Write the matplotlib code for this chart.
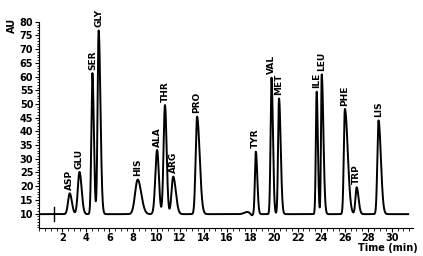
import numpy as np
import matplotlib.pyplot as plt
from matplotlib.ticker import MultipleLocator

# Peaks
names = ['ASP', 'GLU', 'SER', 'GLY', 'HIS', 'ALA', 'THR', 'ARG', 'PRO',
         'TYR', 'VAL', 'MET', 'ILE', 'LEU', 'PHE', 'TRP', 'LIS']
times = [2.62, 3.45, 4.55, 5.08, 8.40, 10.05, 10.72, 11.42, 13.45,
         18.45, 19.78, 20.42, 23.62, 24.05, 26.02, 27.02, 28.88]
heights = [17.4, 25.2, 61.3, 76.8, 22.4, 33.2, 49.6, 23.5, 45.4,
           32.6, 59.6, 52.0, 54.5, 60.8, 48.2, 19.6, 44.0]
sig_left = [0.14, 0.14, 0.09, 0.09, 0.22, 0.15, 0.12, 0.14, 0.12,
            0.08, 0.08, 0.08, 0.07, 0.06, 0.09, 0.10, 0.10]
sig_right = [0.18, 0.18, 0.12, 0.15, 0.30, 0.15, 0.14, 0.22, 0.22,
             0.12, 0.12, 0.14, 0.10, 0.14, 0.24, 0.16, 0.20]
baseline = 9.8

t = np.linspace(0, 31.4, 4000)
y = np.full_like(t, baseline)
for t0, h, sl, sr in zip(times, heights, sig_left, sig_right):
    s = np.where(t < t0, sl, sr)
    y = y + (h - baseline) * np.exp(-0.5 * ((t - t0) / s) ** 2)
# small bump before TYR
y = y + 0.8 * np.exp(-0.5 * ((t - 17.7) / 0.25) ** 2) - 0.6 * np.exp(-0.5 * ((t - 18.1) / 0.1) ** 2)

fig = plt.figure(figsize=(4.23, 2.56), dpi=100)
ax = fig.add_axes([0.092, 0.11, 0.884, 0.805])
ax.plot(t, y, color='black', lw=1.4)
# injection spike
ax.plot([1.25, 1.25], [7.3, 12.4], color='black', lw=1.0)

for n, t0, h in zip(names, times, heights):
    ax.text(t0, h + 1.2, n, rotation=90, ha='center', va='bottom',
            fontsize=6.5, fontweight='bold')

ax.set_xlim(0, 31.8)
ax.set_ylim(4.8, 80)
ax.set_xticks(np.arange(2, 31, 2))
ax.set_yticks(np.arange(10, 81, 5))
ax.xaxis.set_minor_locator(MultipleLocator(0.5))
ax.yaxis.set_minor_locator(MultipleLocator(1))
ax.tick_params(which='major', length=3, width=0.8, labelsize=7, pad=1)
ax.tick_params(which='minor', length=1.8, width=0.6)
for lab in ax.get_xticklabels() + ax.get_yticklabels():
    lab.set_fontweight('bold')
for side in ['top', 'right']:
    ax.spines[side].set_visible(False)

fig.text(0.988, 0.012, 'Time (min)', ha='right', va='bottom', fontsize=7, fontweight='bold')
fig.text(0.028, 0.9, 'AU', rotation=90, ha='center', va='center', fontsize=7, fontweight='bold')

fig.savefig('out.png', dpi=100)
